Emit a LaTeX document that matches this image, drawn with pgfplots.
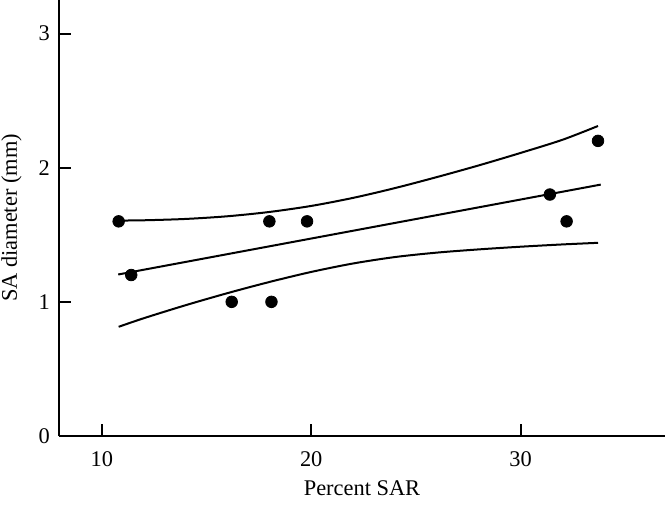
\documentclass[border=0pt]{standalone}
\usepackage{pgfplots}
\pgfplotsset{compat=1.18}
\usepackage{fontspec}
\setmainfont{Liberation Serif}
\usetikzlibrary{calc}
\begin{document}
\begin{tikzpicture}
\begin{axis}[name=ax, scale only axis, width=303pt, height=218pt,
  xmin=7.95, xmax=36.9, ymin=0, ymax=3.25,
  axis lines=left, axis line style={line width=1.1pt, -},
  xtick={10,20,30}, ytick={0,1,2,3},
  tick align=inside, major tick length=6pt, tick style={line width=1pt, black},
  font=\fontsize{11.2}{13.5}\selectfont,
  /pgf/number format/assume math mode=true,
  xticklabel style={yshift=-4.2pt},
  yticklabel style={xshift=-1pt},
  xlabel={Percent SAR}, ylabel={SA diameter (mm)},
  xlabel style={at={(axis description cs:0.5,-0.1353)}, anchor=base},
  ylabel style={at={(axis description cs:-0.0693,0.5)}, anchor=base},
  clip=false]
\addplot[only marks, mark=*, mark size=2.9pt, black] coordinates {
 (10.8,1.6) (11.4,1.2) (16.2,1.0) (18.0,1.6) (18.1,1.0) (19.8,1.6)
 (31.4,1.8) (32.2,1.6) (33.7,2.2)};
\addplot[black, line width=1pt] coordinates {(10.78,1.204) (33.83,1.874)};
\addplot[black, line width=1pt, smooth] coordinates {
 (10.8,1.606) (12,1.608) (14,1.618) (16,1.638) (18,1.670) (20,1.715)
 (22,1.775) (24,1.848) (26,1.930) (28,2.017) (30,2.110) (32,2.208) (33.7,2.311)};
\addplot[black, line width=1pt, smooth] coordinates {
 (10.8,0.814) (12,0.878) (14,0.975) (16,1.065) (18,1.148) (20,1.223)
 (22,1.286) (24,1.334) (26,1.367) (28,1.391) (30,1.411) (32,1.428) (33.7,1.440)};
\end{axis}
\pgfresetboundingbox
\path ($(ax.south west)+(-29.5pt,-35pt)$) rectangle (ax.north east);
\end{tikzpicture}
\end{document}
